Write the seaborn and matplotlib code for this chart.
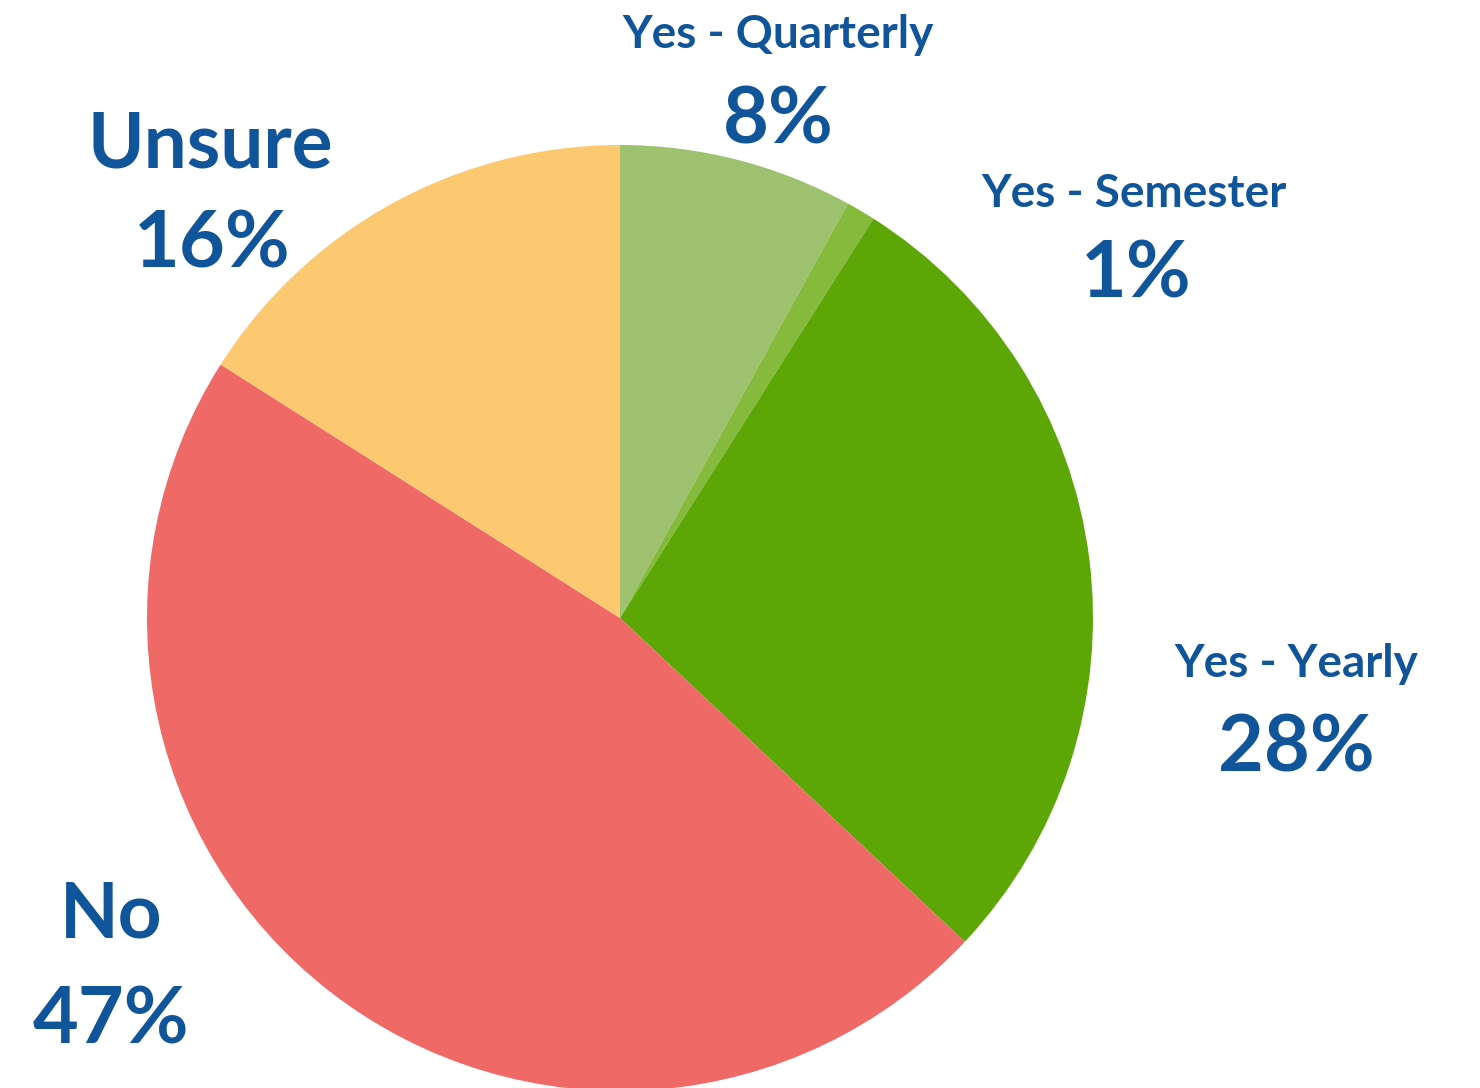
import matplotlib
matplotlib.use("Agg")
import matplotlib.pyplot as plt
import seaborn as sns

# Survey responses, clockwise from 12 o'clock
categories = ["Yes - Quarterly", "Yes - Semester", "Yes - Yearly", "No", "Unsure"]
shares = [8, 1, 28, 47, 16]
colors = ["#9DC16F", "#86BA3D", "#5CA706", "#EF6967", "#FDC970"]

sns.set_theme(style="white")
plt.rcParams["font.family"] = ["Lato", "DejaVu Sans"]

W, H = 1480, 1088
fig = plt.figure(figsize=(W / 100, H / 100), dpi=100)
ax = fig.add_axes([0, 0, 1, 1])

ax.pie(shares, colors=colors, startangle=90, counterclock=False,
       center=(620, H - 618), radius=473,
       wedgeprops=dict(linewidth=0), frame=True)
ax.set_xlim(0, W)
ax.set_ylim(0, H)
ax.set_aspect("equal")
ax.axis("off")

text_color = "#10549A"
# (label x, label baseline, label size, value x, value baseline) in pixels from top-left
label_layout = [
    (778, 48, 33, 778, 144),
    (1134, 207, 33, 1136, 298),
    (1296, 677, 33, 1296, 771),
    (111, 938, 55, 111, 1043),
    (210, 167, 55, 212, 268),
]
value_size = 57

for name, share, (lx, ly, ls, vx, vy) in zip(categories, shares, label_layout):
    ax.text(lx, H - ly, name, ha="center", va="baseline",
            fontsize=ls, fontweight="bold", color=text_color)
    ax.text(vx, H - vy, f"{share}%", ha="center", va="baseline",
            fontsize=value_size, fontweight="bold", color=text_color)

fig.savefig("out.png", dpi=100, facecolor="white")
